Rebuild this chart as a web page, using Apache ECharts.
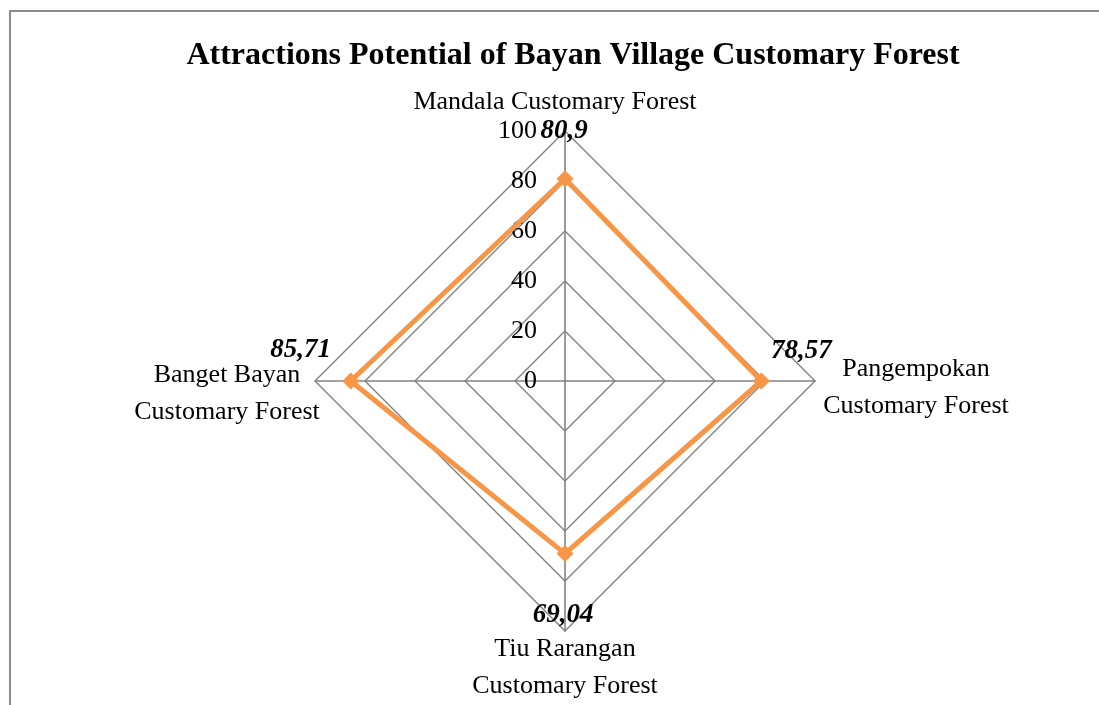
<!DOCTYPE html>
<html>
<head>
<meta charset="utf-8">
<script src="https://cdn.jsdelivr.net/npm/echarts@6/dist/echarts.min.js"></script>
<style>
  html, body { margin: 0; padding: 0; background: #fff; }
  #frame { position: absolute; left: 9px; top: 10px; width: 1200px; height: 800px;
           border-left: 2px solid #8c8c8c; border-top: 2px solid #8c8c8c; }
  #main { position: absolute; left: 0; top: 0; width: 1099px; height: 705px; }
</style>
</head>
<body>
<div id="frame"></div>
<div id="main"></div>
<script>
// indicators in echarts order (counter-clockwise from top)
const forests = [
  "Mandala Customary Forest",
  "Banget Bayan\nCustomary Forest",
  "Tiu Rarangan\nCustomary Forest",
  "Pangempokan\nCustomary Forest"
];
const scores = [80.9, 85.71, 69.04, 78.57];
const scoreMax = 100;

const serif = "'Liberation Serif', 'Times New Roman', serif";
const gridGray = "#828282";
const orange = "#F79646";

// per indicator name placement
const nameCfg = [
  { gap: 8, va: "bottom", padding: [0, 20, -3, 0] },
  { gap: 0, va: "top", padding: [-24, 176, 0, 0] },
  { gap: 0, va: "top", padding: [0, 0, 0, 0] },
  { gap: 0, va: "top", padding: [-30, 0, 0, 202] }
];
// label offsets from each vertex
const labelOffsets = [[-1, -48], [-50, -31], [-2, 61], [40, -30]];

const indicators = forests.map((name, i) => ({
  name: name,
  max: scoreMax,
  min: 0,
  nameGap: nameCfg[i].gap,
  nameTextStyle: { align: "center", verticalAlign: nameCfg[i].va, padding: nameCfg[i].padding },
  axisLabel: { show: i === 0 }
}));

const labelData = scores.map((v, i) => ({
  value: scores,
  label: {
    show: true,
    position: "inside",
    offset: labelOffsets[i],
    color: "#000",
    fontFamily: serif,
    fontSize: 27,
    fontWeight: "bold",
    fontStyle: "italic",
    formatter: function (p) {
      let dim = p.dimensionIndex;
      if (dim == null) dim = scores.indexOf(p.value);
      return dim === p.dataIndex ? String(scores[dim]).replace(".", ",") : "";
    }
  }
}));

const chart = echarts.init(document.getElementById("main"));
chart.setOption({
  animation: false,
  title: {
    text: "Attractions Potential of Bayan Village Customary Forest",
    left: 568,
    top: 35,
    textAlign: "center",
    textStyle: { fontFamily: serif, fontSize: 32, fontWeight: "bold", color: "#000" }
  },
  radar: {
    center: [565, 381],
    radius: 250,
    shape: "polygon",
    splitNumber: 5,
    indicator: indicators,
    axisName: { color: "#000", fontFamily: serif, fontSize: 26, lineHeight: 37 },
    axisLine: { lineStyle: { color: gridGray, width: 1.6 } },
    splitLine: { lineStyle: { color: gridGray, width: 1.4 } },
    splitArea: { show: false },
    axisTick: { show: false },
    axisLabel: { color: "#000", fontFamily: serif, fontSize: 26, margin: 28 }
  },
  series: [
    {
      type: "radar",
      silent: true,
      symbol: "diamond",
      symbolSize: 17,
      lineStyle: { color: orange, width: 5 },
      itemStyle: { color: orange },
      data: [{ value: scores, name: "score" }]
    },
    {
      type: "radar",
      silent: true,
      symbol: "circle",
      symbolSize: 1,
      lineStyle: { width: 0, color: "transparent" },
      itemStyle: { color: "transparent" },
      data: labelData
    }
  ]
});
</script>
</body>
</html>
